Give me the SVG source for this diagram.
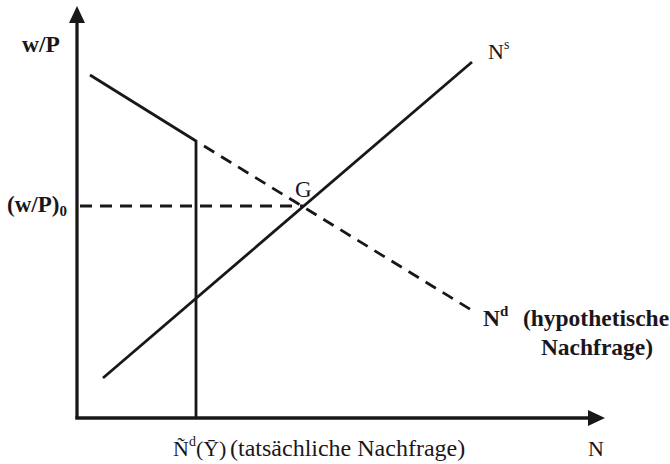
<svg xmlns="http://www.w3.org/2000/svg" width="670" height="464" viewBox="0 0 670 464">
<style>
  .ax { stroke:#1a171b; stroke-width:3.3; fill:none; }
  .ln { stroke:#1a171b; stroke-width:2.8; fill:none; }
  .dash { stroke:#1a171b; stroke-width:2.8; fill:none; stroke-dasharray:12 8; }
  .head { fill:#1a171b; }
  text { font-family:"Liberation Serif","DejaVu Serif",serif; fill:#1a171b; font-size:22px; }
  .b { font-weight:bold; font-size:23.5px; }
</style>
<rect width="670" height="464" fill="#fff"/>
<g id="connectors">
  <line class="ax" x1="77" y1="419" x2="77" y2="20"/>
  <polygon class="head" points="77,6 69,23 85,23"/>
  <line class="ax" x1="75.4" y1="418" x2="591" y2="418"/>
  <polygon class="head" points="605,418 588,410 588,426"/>
  <line class="ln" x1="90" y1="75" x2="196" y2="141"/>
  <line class="dash" x1="204" y1="146" x2="473" y2="311"/>
  <line class="dash" x1="80" y1="206" x2="303" y2="206"/>
  <line class="ln" x1="103" y1="378" x2="472" y2="62"/>
  <line class="ln" x1="196" y1="140" x2="196" y2="418"/>
</g>
<g id="axis-y-label"><text class="b" x="22" y="52" font-size="24">w/P</text></g>
<g id="axis-y-value"><text class="b" x="7" y="212" style="font-size:23px">(w/P)<tspan style="font-size:15px" dy="4">0</tspan></text></g>
<g id="point-G"><text x="295" y="197" style="font-size:23px">G</text></g>
<g id="supply-label"><text x="488" y="59">N<tspan font-size="14" dy="-10">s</tspan></text></g>
<g id="demand-label">
  <text class="b" x="483" y="326">N<tspan style="font-size:15px" dy="-10">d</tspan></text>
  <text class="b" x="596" y="326" text-anchor="middle">(hypothetische</text>
  <text class="b" x="597" y="355" text-anchor="middle">Nachfrage)</text>
</g>
<g id="actual-demand-label"><text x="173" y="456">Ñ<tspan font-size="14" dy="-10">d</tspan><tspan dy="10">(Ȳ)</tspan><tspan x="230" style="font-size:24px">(tatsächliche Nachfrage)</tspan></text></g>
<g id="axis-x-label"><text x="588" y="456">N</text></g>
</svg>
